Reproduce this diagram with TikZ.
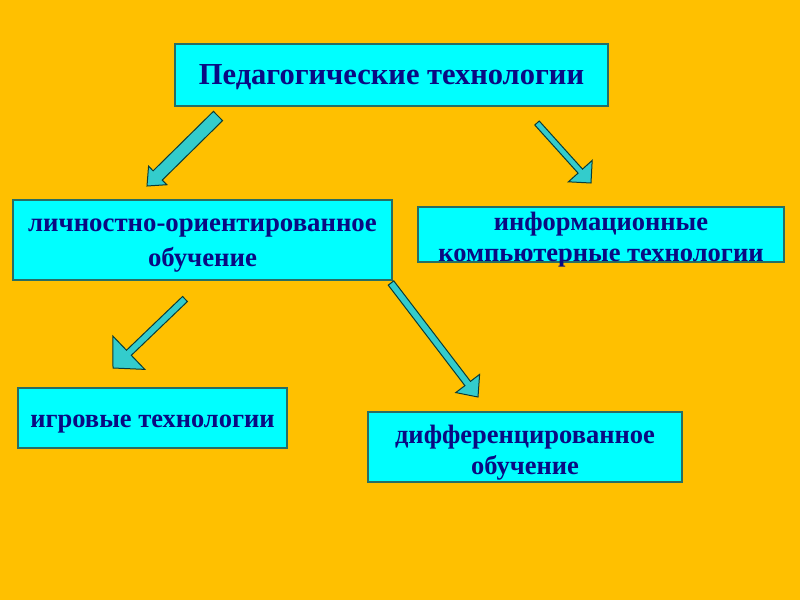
\documentclass[tikz,border=0pt]{standalone}
\usepackage{fontspec}
\setmainfont{Liberation Serif}
\definecolor{slideorange}{RGB}{255,192,0}
\definecolor{boxcyan}{RGB}{0,255,255}
\definecolor{boxedge}{RGB}{40,110,100}
\definecolor{arrcyan}{RGB}{51,204,204}
\definecolor{arredge}{RGB}{10,60,55}
\definecolor{txtnavy}{RGB}{10,10,130}
\usetikzlibrary{calc, positioning}

% tail, tip, half shaft, half head, head length
\newcommand{\blockarrow}[5]{%
  \coordinate (hb) at ($(#2)!#5!(#1)$);
  \draw[blockarr] ($(#1)!#3!90:(#2)$) -- ($(hb)!#3!90:(#2)$)
    -- ($(hb)!#4!90:(#2)$) -- (#2) -- ($(hb)!#4!-90:(#2)$)
    -- ($(hb)!#3!-90:(#2)$) -- ($(#1)!#3!-90:(#2)$) -- cycle;
}

\tikzset{
  topicbox/.style={draw=boxedge, line width=1.2pt, fill=boxcyan, inner sep=0pt},
  boxtext/.style={text=txtnavy, align=center, inner sep=0pt,
    font=\bfseries\fontsize{26.5}{31}\selectfont},
  blockarr/.style={draw=arredge, line width=1pt, fill=arrcyan, line join=miter}
}

\begin{document}
\begin{tikzpicture}[x=1pt, y=-1pt]
  \fill[slideorange] (0,0) rectangle (800,600);
  \useasboundingbox (0,0) rectangle (800,600);

  % boxes
  \node[topicbox, minimum width=433pt, minimum height=62pt] (ped) at (391.5,75) {};
  \node[topicbox, minimum width=379pt, minimum height=80pt] (lichn) at (202.5,240) {};
  \node[topicbox, minimum width=366pt, minimum height=55pt] (inform) at (601,234.5) {};
  \node[topicbox, minimum width=269pt, minimum height=60pt] (igr) at (152.5,418) {};
  \node[topicbox, minimum width=314pt, minimum height=70pt] (diff) at (525,447) {};

  % texts
  \node[boxtext, font=\bfseries\fontsize{30.5}{34}\selectfont] (ped-t)
    at ($(ped)+(0,2)$) {Педагогические технологии};
  \node[boxtext, font=\bfseries\fontsize{26.8}{35}\selectfont] (lichn-t)
    at ($(lichn)+(0,6)$) {личностно-ориентированное\\обучение};
  \node[boxtext] (inform-t)
    at ($(inform)+(0,5)$) {информационные\\компьютерные технологии};
  \node[boxtext] (igr-t) at ($(igr)+(0,6)$) {игровые технологии};
  \node[boxtext] (diff-t) at ($(diff)+(0,5.5)$) {дифференцированное\\обучение};

  \coordinate (p1) at (218,116);
  \coordinate (p1e) at (147,186);
  \coordinate (p2) at (537,123);
  \coordinate (p2e) at (591,183);
  \coordinate (p3) at (185,299);
  \coordinate (p3e) at (113,368);
  \coordinate (p4) at (391,283);
  \coordinate (p4e) at (478,397);

  \blockarrow{p1}{p1e}{6.5pt}{13pt}{15pt}
  \blockarrow{p2}{p2e}{3pt}{16pt}{16pt}
  \blockarrow{p3}{p3e}{3.5pt}{23pt}{22pt}
  \blockarrow{p4}{p4e}{3.5pt}{15pt}{17pt}
\end{tikzpicture}
\end{document}
